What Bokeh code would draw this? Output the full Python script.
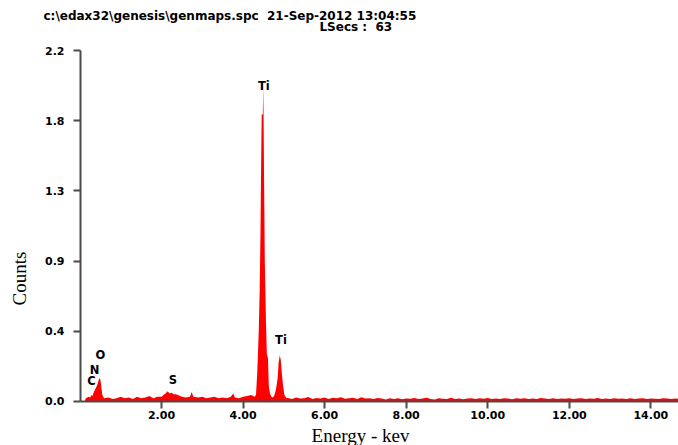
from bokeh.plotting import figure
from bokeh.models import Range1d, FixedTicker, PrintfTickFormatter, NumeralTickFormatter, Label
from bokeh.embed import file_html
from bokeh.resources import INLINE
import math

# ---- data (energy keV, counts in display units) ----
low_energy = [0.12, 0.14, 0.18, 0.21, 0.25, 0.28, 0.31, 0.34, 0.38, 0.42, 0.45, 0.47, 0.50, 0.52, 0.55, 0.59]
low_counts = [0.0, 0.02, 0.025, 0.03, 0.025, 0.04, 0.035, 0.06, 0.08, 0.10, 0.125, 0.145, 0.14, 0.10, 0.04, 0.02]

mid_energy = [0.6, 0.7, 0.8, 0.9, 1.0, 1.1, 1.2, 1.3, 1.4, 1.5, 1.6, 1.7, 1.8, 1.9, 2.0,
              2.05, 2.1, 2.15, 2.2, 2.25, 2.3, 2.35, 2.4, 2.5, 2.6, 2.7, 2.74, 2.78, 2.9,
              3.0, 3.1, 3.2, 3.3, 3.4, 3.5, 3.6, 3.7, 3.76, 3.8, 3.9, 4.0, 4.1, 4.2, 4.25]
mid_counts = [0.02, 0.025, 0.015, 0.02, 0.03, 0.02, 0.025, 0.015, 0.03, 0.02, 0.025, 0.035, 0.02, 0.03, 0.03,
              0.04, 0.05, 0.065, 0.05, 0.055, 0.045, 0.045, 0.04, 0.03, 0.025, 0.03, 0.06, 0.03, 0.025,
              0.03, 0.02, 0.025, 0.03, 0.02, 0.025, 0.02, 0.03, 0.05, 0.025, 0.02, 0.03, 0.035, 0.04, 0.035]

peak_energy = [4.28, 4.317, 4.346, 4.366, 4.386, 4.408, 4.427, 4.442, 4.457, 4.484, 4.494, 4.503,
               4.513, 4.533, 4.538, 4.562, 4.582, 4.611, 4.631, 4.66, 4.697, 4.734, 4.77, 4.81,
               4.85, 4.87, 4.90, 4.925, 4.95, 4.98, 5.015, 5.065]
peak_counts = [0.03, 0.04, 0.17, 0.30, 0.45, 0.70, 1.05, 1.46, 1.80, 1.80, 1.97, 1.80,
               1.47, 0.88, 0.82, 0.50, 0.30, 0.27, 0.10, 0.05, 0.03, 0.025, 0.04, 0.08,
               0.15, 0.24, 0.29, 0.26, 0.18, 0.10, 0.04, 0.02]

tail_start = 5.1
tail_step = 0.1
tail_counts = [0.022, 0.015, 0.025, 0.018, 0.02, 0.028, 0.016, 0.022, 0.019, 0.025,
               0.015, 0.024, 0.02, 0.027, 0.017, 0.021, 0.023, 0.016, 0.026, 0.019,
               0.02, 0.015, 0.022, 0.018, 0.012, 0.02, 0.016, 0.021, 0.014, 0.019,
               0.017, 0.022, 0.015, 0.018, 0.024, 0.016, 0.013, 0.02, 0.017, 0.015,
               0.023, 0.016, 0.019, 0.014, 0.018, 0.021, 0.015, 0.02, 0.017, 0.022,
               0.016, 0.019, 0.015, 0.02, 0.018, 0.014, 0.021, 0.017, 0.02, 0.016,
               0.019, 0.015, 0.022, 0.018, 0.016, 0.02, 0.015, 0.019, 0.017, 0.021,
               0.016, 0.018, 0.02, 0.015, 0.019, 0.017, 0.022, 0.016, 0.018, 0.015,
               0.02, 0.017, 0.019, 0.016, 0.021, 0.015, 0.018, 0.02, 0.016, 0.019,
               0.017, 0.015, 0.02, 0.018, 0.016, 0.019, 0.017]
tail_energy = [round(tail_start + i * tail_step, 2) for i in range(len(tail_counts))]

peak_labels = ["C", "N", "O", "S", "Ti", "Ti"]
peak_label_x = [0.28, 0.36, 0.50, 2.28, 4.51, 4.93]
peak_label_y = [0.13, 0.20, 0.29, 0.136, 1.975, 0.387]

x_ticks = [2, 4, 6, 8, 10, 12, 14]
y_ticks = [0, 0.44, 0.88, 1.32, 1.76, 2.2]
x_axis_min, x_axis_max = 0.0135, 14.678
y_axis_min, y_axis_max = 0.0, 2.2

title_line1 = "c:\\edax32\\genesis\\genmaps.spc\u00a0 21-Sep-2012 13:04:55"
title_line2 = "LSecs :\u00a0 63"

energy = low_energy + mid_energy + peak_energy + tail_energy
counts = low_counts + mid_counts + peak_counts + tail_counts

# ---- figure: frame covers the whole canvas, axes fixed at data locations ----
p = figure(width=678, height=445, x_range=Range1d(-1.948, 14.678), y_range=Range1d(-0.2759, 2.5141),
           output_backend="svg", toolbar_location=None,
           min_border_left=0, min_border_right=0, min_border_top=0, min_border_bottom=0)
p.outline_line_color = None
p.xgrid.visible = False
p.ygrid.visible = False
p.background_fill_color = "white"
p.border_fill_color = "white"

p.varea(x=energy, y1=[0] * len(energy), y2=counts, fill_color="#ff0000")

axis_col = "#4a4a4a"
for ax in (p.xaxis[0], p.yaxis[0]):
    ax.axis_line_width = 2
    ax.axis_line_color = axis_col
    ax.major_tick_line_width = 2
    ax.major_tick_line_color = axis_col
    ax.major_tick_in = 0
    ax.major_tick_out = 7
    ax.minor_tick_line_color = None
    ax.major_label_text_font = "DejaVu Sans"
    ax.major_label_text_font_style = "bold"
    ax.major_label_text_font_size = "11px"
    ax.major_label_text_color = "black"

p.xaxis.fixed_location = 0.0
p.xaxis.bounds = (x_axis_min, x_axis_max)
p.xaxis.ticker = FixedTicker(ticks=x_ticks)
p.xaxis.formatter = NumeralTickFormatter(format="0.00")
p.xaxis.major_label_standoff = 3

p.yaxis.fixed_location = x_axis_min
p.yaxis.bounds = (y_axis_min, y_axis_max)
p.yaxis.ticker = FixedTicker(ticks=y_ticks)
p.yaxis.formatter = PrintfTickFormatter(format="%.1f")
p.yaxis.major_label_standoff = 9

bold = dict(text_font="DejaVu Sans", text_font_style="bold", text_color="black")
for t, x, y in zip(peak_labels, peak_label_x, peak_label_y):
    p.add_layout(Label(x=x, y=y, text=t, text_align="center", text_baseline="middle",
                       text_font_size="11.5px", **bold))

p.add_layout(Label(x=-0.894, y=2.42, text=title_line1, text_align="left", text_baseline="middle",
                   text_font_size="12px", **bold))
p.add_layout(Label(x=5.874, y=2.345, text=title_line2, text_align="left", text_baseline="middle",
                   text_font_size="12px", **bold))

serif = dict(text_font="Liberation Serif", text_color="black", text_font_size="19px")
p.add_layout(Label(x=-1.482, y=0.771, text="Counts", angle=math.pi / 2, text_align="center",
                   text_baseline="middle", **serif))
p.add_layout(Label(x=6.88, y=-0.2759, text="Energy - kev", text_align="center",
                   text_baseline="bottom", **serif))

open("out.html", "w").write(file_html(p, INLINE))
